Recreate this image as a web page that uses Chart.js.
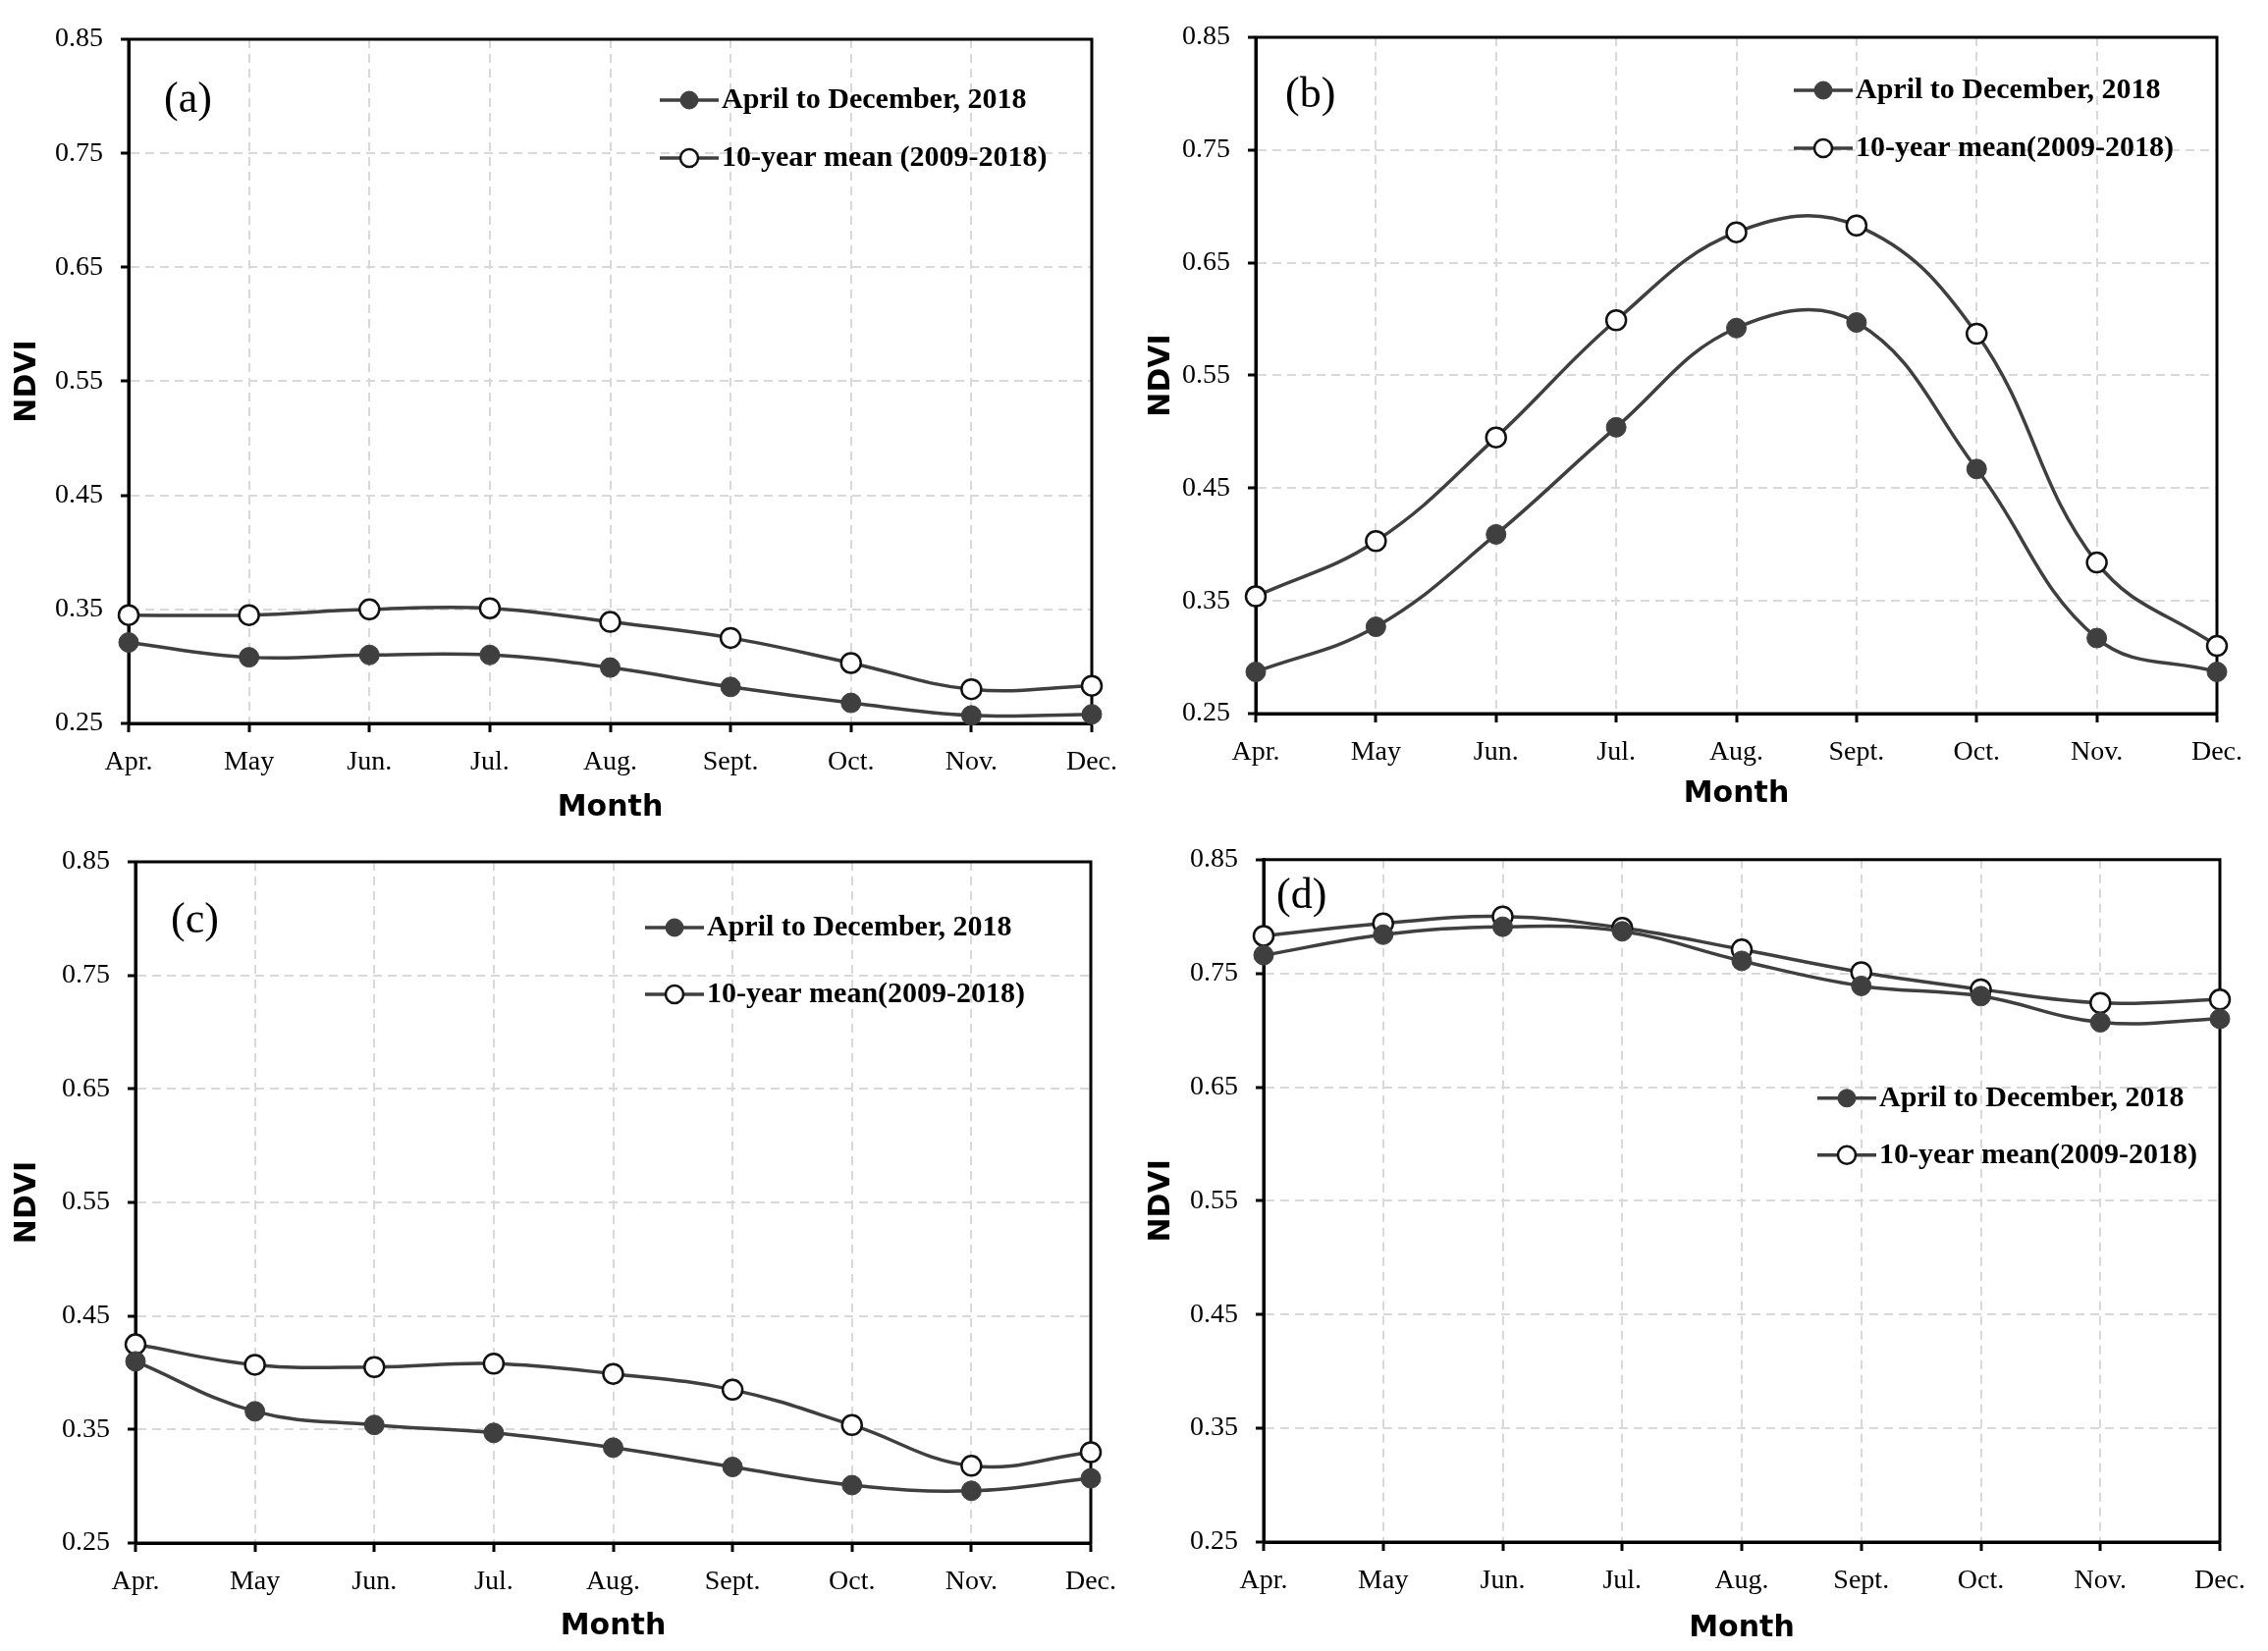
<!DOCTYPE html>
<html>
<head>
<meta charset="utf-8">
<title>NDVI, April to December 2018</title>
<script src="https://cdn.jsdelivr.net/npm/chart.js@4.4.1/dist/chart.umd.min.js"></script>
<style>
    html, body { margin: 0; padding: 0; background: #fff; }
    #page { position: relative; width: 2310px; height: 1682px; overflow: hidden; }
    .panel { position: absolute; width: 1155px; height: 841px; }
</style>
</head>
<body>
<div id="page">
    <div class="panel" style="left:0;top:0"><canvas id="chartA"></canvas></div>
    <div class="panel" style="left:1155px;top:0"><canvas id="chartB"></canvas></div>
    <div class="panel" style="left:0;top:841px"><canvas id="chartC"></canvas></div>
    <div class="panel" style="left:1155px;top:841px"><canvas id="chartD"></canvas></div>
</div>
<script>
// Data
const months = ['Apr.', 'May', 'Jun.', 'Jul.', 'Aug.', 'Sept.', 'Oct.', 'Nov.', 'Dec.'];
const yTicks = [0.25, 0.35, 0.45, 0.55, 0.65, 0.75, 0.85];
const label2018 = 'April to December, 2018';
const labelMeanA = '10-year mean (2009-2018)';
const labelMean = '10-year mean(2009-2018)';

const ndvi2018A = [0.321, 0.308, 0.310, 0.310, 0.299, 0.282, 0.268, 0.257, 0.258];
const ndviMeanA = [0.345, 0.345, 0.350, 0.351, 0.339, 0.325, 0.303, 0.280, 0.283];

const ndvi2018B = [0.287, 0.327, 0.409, 0.504, 0.592, 0.597, 0.467, 0.317, 0.287];
const ndviMeanB = [0.354, 0.403, 0.495, 0.599, 0.677, 0.683, 0.587, 0.384, 0.310];

const ndvi2018C = [0.410, 0.366, 0.354, 0.347, 0.334, 0.317, 0.301, 0.296, 0.307];
const ndviMeanC = [0.425, 0.407, 0.405, 0.408, 0.399, 0.385, 0.354, 0.318, 0.330];

const ndvi2018D = [0.766, 0.784, 0.791, 0.787, 0.761, 0.739, 0.730, 0.707, 0.710];
const ndviMeanD = [0.783, 0.794, 0.800, 0.790, 0.771, 0.751, 0.736, 0.724, 0.727];

// Shared styles
const lineColor = '#3f3f3f';
const serif = '"Liberation Serif", "Times New Roman", serif';
const tickFont = { family: serif, size: 28 };
const titleFont = { family: '"DejaVu Sans", sans-serif', weight: 'bold', size: 30 };

// Frame, panel tag and in-plot legend
const panelDecor = {
    id: 'panelDecor',
    beforeDatasetsDraw(chart) {
        const { ctx, chartArea: a } = chart;
        ctx.save();
        ctx.strokeStyle = '#000';
        ctx.lineWidth = 3;
        ctx.strokeRect(a.left, a.top, a.right - a.left, a.bottom - a.top);
        ctx.restore();
    },
    afterDatasetsDraw(chart, args, opts) {
        const { ctx, chartArea: a } = chart;
        ctx.save();
        ctx.textBaseline = 'middle';
        ctx.fillStyle = '#000';
        ctx.font = '44px ' + serif;
        ctx.fillText(opts.tag, a.left + opts.tagX, a.top + opts.tagY);

        ctx.font = 'bold 30px ' + serif;
        chart.data.datasets.forEach((ds, i) => {
            const x0 = a.left + opts.legendX;
            const y = a.top + opts.legendY + i * opts.legendGap;
            ctx.strokeStyle = ds.borderColor;
            ctx.lineWidth = ds.borderWidth;
            ctx.beginPath();
            ctx.moveTo(x0, y);
            ctx.lineTo(x0 + 60, y);
            ctx.stroke();

            ctx.beginPath();
            ctx.arc(x0 + 30, y, ds.pointRadius - 1, 0, Math.PI * 2);
            ctx.fillStyle = ds.pointBackgroundColor;
            ctx.fill();
            ctx.lineWidth = ds.pointBorderWidth;
            ctx.strokeStyle = ds.pointBorderColor;
            ctx.stroke();

            ctx.fillStyle = '#000';
            ctx.fillText(ds.label, x0 + 63, y);
        });
        ctx.restore();
    }
};

// Build one panel
function makePanel(canvasId, values2018, valuesMean, meanLabel, box, decor) {
    const ctx = document.getElementById(canvasId).getContext('2d');
    return new Chart(ctx, {
        type: 'line',
        data: {
            labels: months,
            datasets: [{
                label: label2018,
                data: values2018,
                borderColor: lineColor,
                borderWidth: 3.5,
                tension: 0.4,
                pointRadius: 10,
                pointBackgroundColor: lineColor,
                pointBorderColor: lineColor,
                pointBorderWidth: 1,
                clip: false
            }, {
                label: meanLabel,
                data: valuesMean,
                borderColor: lineColor,
                borderWidth: 3.5,
                tension: 0.4,
                pointRadius: 10,
                pointBackgroundColor: '#fff',
                pointBorderColor: '#111',
                pointBorderWidth: 2.5,
                clip: false
            }]
        },
        options: {
            responsive: true,
            maintainAspectRatio: false,
            animation: false,
            layout: {
                padding: { left: 0, top: box.padTop, right: box.padRight, bottom: box.padBottom }
            },
            plugins: {
                legend: { display: false },
                tooltip: { enabled: false },
                panelDecor: decor
            },
            scales: {
                x: {
                    type: 'category',
                    afterFit: s => { s.height = box.xHeight; },
                    ticks: { font: tickFont, color: '#000', padding: 14, maxRotation: 0, autoSkip: false },
                    grid: { color: '#d9d9d9', lineWidth: 2, tickColor: '#000', tickWidth: 3, tickLength: 9 },
                    border: { color: '#000', width: 3, dash: [9, 6] },
                    title: { display: true, text: 'Month', font: titleFont, color: '#000', padding: { top: 0, bottom: box.titlePad } }
                },
                y: {
                    min: 0.25,
                    max: 0.85,
                    afterBuildTicks: s => { s.ticks = yTicks.map(v => ({ value: v })); },
                    afterFit: s => { s.width = box.yWidth; },
                    ticks: { font: tickFont, color: '#000', padding: 18, callback: v => v.toFixed(2) },
                    grid: { color: '#d9d9d9', lineWidth: 2, tickColor: '#000', tickWidth: 3, tickLength: 8 },
                    border: { color: '#000', width: 3, dash: [9, 6] },
                    title: { display: true, text: 'NDVI', font: titleFont, color: '#000', padding: { top: 10, bottom: 0 } }
                }
            }
        },
        plugins: [panelDecor]
    });
}

makePanel('chartA', ndvi2018A, ndviMeanA, labelMeanA,
    { padTop: 40, padRight: 43, padBottom: 0, yWidth: 131, xHeight: 104, titlePad: 0 },
    { tag: '(a)', tagX: 36, tagY: 62, legendX: 541, legendY: 62, legendGap: 59 });

makePanel('chartB', ndvi2018B, ndviMeanB, labelMean,
    { padTop: 38, padRight: 52, padBottom: 10, yWidth: 124, xHeight: 104, titlePad: 4 },
    { tag: '(b)', tagX: 30, tagY: 59, legendX: 548, legendY: 54, legendGap: 59 });

makePanel('chartC', ndvi2018C, ndviMeanC, labelMean,
    { padTop: 37, padRight: 44, padBottom: 0, yWidth: 138, xHeight: 110, titlePad: 7 },
    { tag: '(c)', tagX: 36, tagY: 60, legendX: 519, legendY: 67, legendGap: 68 });

makePanel('chartD', ndvi2018D, ndviMeanD, labelMean,
    { padTop: 33, padRight: 49, padBottom: 0, yWidth: 132, xHeight: 111, titlePad: 5 },
    { tag: '(d)', tagX: 13, tagY: 38, legendX: 564, legendY: 243, legendGap: 58 });
</script>
</body>
</html>
